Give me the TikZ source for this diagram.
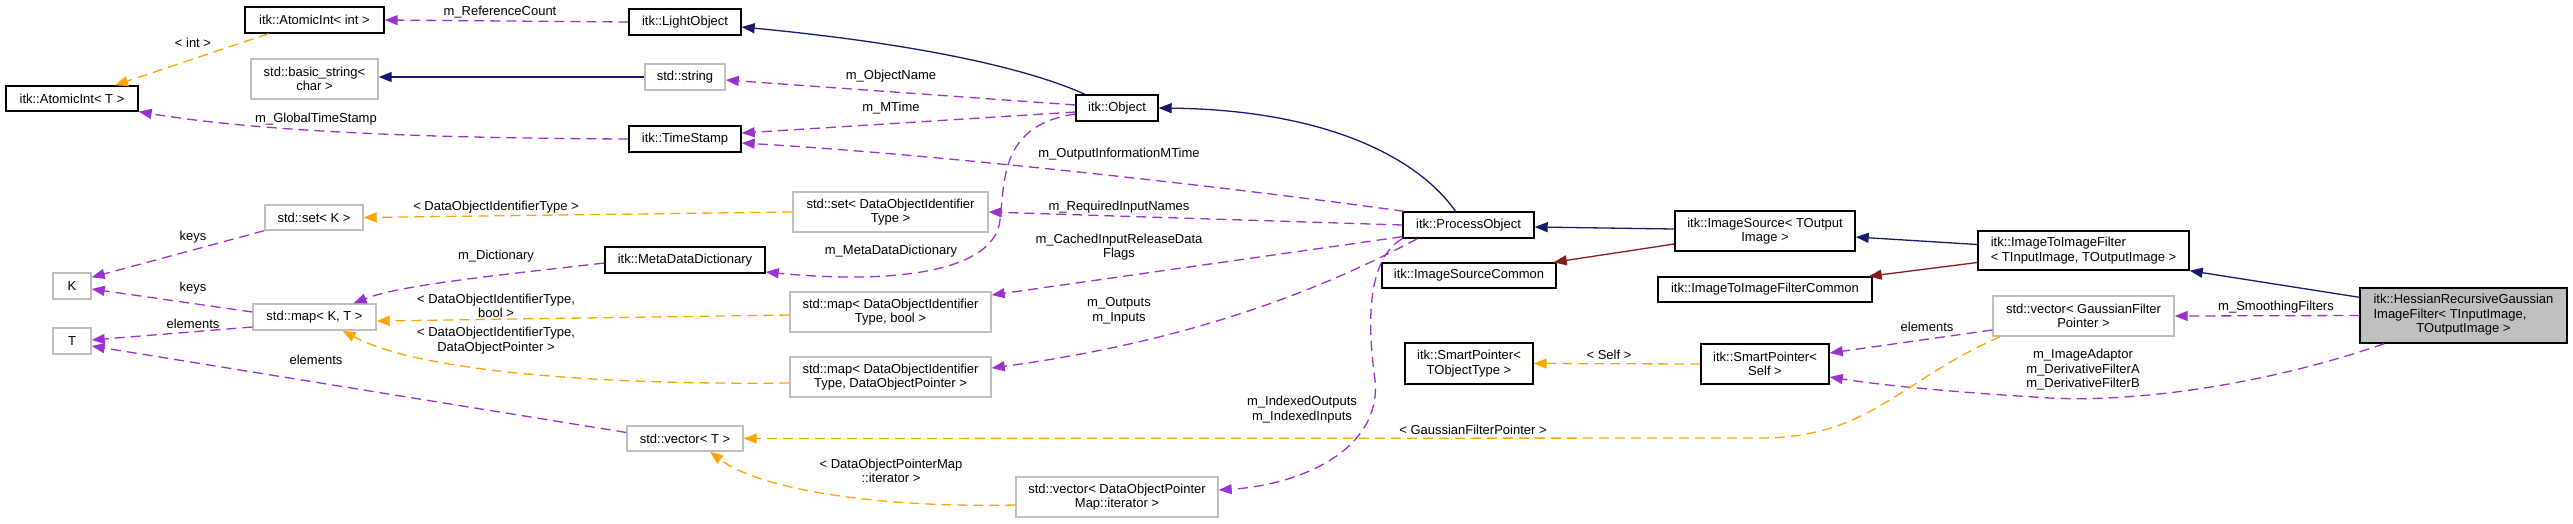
\documentclass[tikz,border=0pt]{standalone}
\usepackage{fontspec}
\setmainfont{Liberation Sans}
\usetikzlibrary{arrows.meta,calc}
\definecolor{navy}{HTML}{191970}
\definecolor{fred}{HTML}{8B1A1A}
\definecolor{purp}{HTML}{9A32CD}
\definecolor{orng}{HTML}{FFA500}
\definecolor{greybox}{HTML}{BFBFBF}
\newcommand\dfnt{\fontsize{13}{14.5}\selectfont}
\begin{document}
\begin{tikzpicture}[x=1pt,y=-1pt,
  box/.style={rectangle,inner sep=0pt,font=\dfnt,align=center,line width=1.4pt},
  cls/.style={box,draw=black},
  ext/.style={box,draw=greybox},
  lbl/.style={inner sep=0pt,font=\dfnt,align=center},
  tipd/.style={-{Triangle[length=13pt,width=10pt]}},
  uses/.style={tipd,draw=purp,line width=1.3pt,dash pattern=on 10pt off 6pt},
  tmpl/.style={tipd,draw=orng,line width=1.3pt,dash pattern=on 10pt off 6pt},
  inh/.style={tipd,draw=navy,line width=1.3pt},
  priv/.style={tipd,draw=fred,line width=1.3pt}
]
\useasboundingbox (0,0) rectangle (2573,523);

% nodes
\node[cls,minimum width=139pt,minimum height=26pt] (aint) at (314.5,20) {itk::AtomicInt< int >};
\node[cls,minimum width=112pt,minimum height=26pt] (light) at (685,22) {itk::LightObject};
\node[ext,minimum width=127pt,minimum height=40pt] (bstr) at (314.5,79) {std::basic\_string<\\char >};
\node[ext,minimum width=80pt,minimum height=26pt] (str) at (685,77) {std::string};
\node[cls,minimum width=132pt,minimum height=25pt] (aintT) at (72,98.5) {itk::AtomicInt< T >};
\node[cls,minimum width=112pt,minimum height=26pt] (ts) at (685,139) {itk::TimeStamp};
\node[ext,minimum width=98pt,minimum height=25pt] (setK) at (314,217.5) {std::set< K >};
\node[cls,minimum width=160pt,minimum height=26pt] (mdd) at (685,260) {itk::MetaDataDictionary};
\node[ext,minimum width=38pt,minimum height=26pt] (K) at (72,286) {K};
\node[ext,minimum width=123pt,minimum height=26pt] (mapKT) at (314.5,317) {std::map< K, T >};
\node[ext,minimum width=38pt,minimum height=26pt] (T) at (72,341) {T};
\node[ext,minimum width=116pt,minimum height=25pt] (vecT) at (685,438.5) {std::vector< T >};
\node[cls,minimum width=82pt,minimum height=26pt] (obj) at (1117,108) {itk::Object};
\node[ext,minimum width=195pt,minimum height=40pt] (setD) at (890.5,212) {std::set< DataObjectIdentifier\\Type >};
\node[ext,minimum width=201pt,minimum height=40pt] (mapB) at (890.5,312) {std::map< DataObjectIdentifier\\Type, bool >};
\node[ext,minimum width=201pt,minimum height=40pt] (mapP) at (890.5,377) {std::map< DataObjectIdentifier\\Type, DataObjectPointer >};
\node[ext,minimum width=202pt,minimum height=40pt] (vecIt) at (1117,497) {std::vector< DataObjectPointer\\Map::iterator >};
\node[cls,minimum width=131pt,minimum height=26pt] (po) at (1468.5,225) {itk::ProcessObject};
\node[cls,minimum width=174pt,minimum height=25pt] (isc) at (1469,275.5) {itk::ImageSourceCommon};
\node[cls,minimum width=128pt,minimum height=41pt] (spT) at (1469,363.5) {itk::SmartPointer<\\TObjectType >};
\node[cls,minimum width=180pt,minimum height=40pt] (is) at (1765,231) {itk::ImageSource< TOutput\\Image >};
\node[cls,minimum width=214pt,minimum height=25pt] (itifc) at (1765,289.5) {itk::ImageToImageFilterCommon};
\node[cls,minimum width=128pt,minimum height=40pt] (spS) at (1765,364) {itk::SmartPointer<\\Self >};
\node[cls,align=left,minimum width=211pt,minimum height=39pt] (itif) at (2083.5,250.5) {itk::ImageToImageFilter\\< TInputImage, TOutputImage >};
\node[ext,minimum width=181pt,minimum height=40pt] (vecG) at (2083.5,316) {std::vector< GaussianFilter\\Pointer >};
\node[cls,fill=greybox,minimum width=207pt,minimum height=55pt] (hess) at (2463.5,315.5)
  {\begin{tabular}{@{}l@{}}itk::HessianRecursiveGaussian\\ImageFilter< TInputImage,\\\multicolumn{1}{@{}c@{}}{TOutputImage >}\end{tabular}};

% edges
\draw[uses] (light.west) -- (aint.east);
\draw[tmpl] ($(aint.south)+(-46,0)$) -- ($(aintT.north)+(43,0)$);
\draw[inh] (str.west) -- (str.west -| bstr.east);
\draw[uses] (ts.west) .. controls (400,138) and (250,130) .. (aintT.south east);
\draw[inh] ($(obj.north)+(-32,0)$) .. controls (1020,65) and (900,42) .. ($(light.east)+(0,5)$);
\draw[uses] ($(obj.west)+(0,-3)$) -- ($(str.east)+(0,3)$);
\draw[uses] ($(obj.west)+(0,4)$) -- ($(ts.east)+(0,-6)$);
\draw[uses] ($(po.north west)+(2,0)$) .. controls (1250,190) and (950,155) .. ($(ts.east)+(0,4)$);
\draw[inh] ($(po.north)+(-13,0)$) .. controls (1420,160) and (1330,110) .. (obj.east);
\draw[uses] (po.west) -- (setD.east);
\draw[tmpl] (setD.west) -- (setK.east);
\draw[uses] (setK.south west) -- ($(K.north east)+(0,5)$);
\draw[uses] ($(obj.west)+(0,6)$) .. controls (1000,125) and (1005,180) .. (1000,220) .. controls (995,270) and (900,285) .. ($(mdd.east)+(0,12)$);
\draw[uses] ($(mdd.west)+(0,3)$) .. controls (500,275) and (400,285) .. ($(mapKT.north)+(39,0)$);
\draw[uses] ($(mapKT.west)+(0,-5)$) -- ($(K.east)+(0,3)$);
\draw[uses] ($(mapKT.west)+(0,10)$) -- ($(T.east)+(0,-1)$);
\draw[uses] ($(vecT.west)+(0,-6)$) -- ($(T.east)+(0,5)$);
\draw[tmpl] ($(mapB.west)+(0,3)$) -- ($(mapKT.east)+(0,4)$);
\draw[tmpl] ($(mapP.west)+(0,6)$) .. controls (600,385) and (420,372) .. ($(mapKT.south)+(28,0)$);
\draw[uses] ($(po.south west)+(0,-2)$) -- ($(mapB.east)+(0,-17)$);
\draw[uses] ($(po.south west)+(15,0)$) .. controls (1330,285) and (1200,340) .. ($(mapP.east)+(0,-9)$);
\draw[uses] (po.south west) .. controls (1365,260) and (1368,330) .. (1375,380) .. controls (1382,450) and (1300,485) .. ($(vecIt.east)+(0,-7)$);
\draw[tmpl] ($(vecIt.west)+(0,8)$) .. controls (880,508) and (760,490) .. ($(vecT.south)+(25,0)$);
\draw[inh] ($(is.west)+(0,-2)$) -- ($(po.east)+(0,2)$);
\draw[priv] ($(is.west)+(0,13)$) -- ($(isc.north east)+(-3,0)$);
\draw[inh] ($(itif.west)+(0,-6)$) -- ($(is.east)+(0,6)$);
\draw[priv] ($(itif.west)+(0,12)$) -- ($(itifc.north east)+(-4,0)$);
\draw[inh] ($(hess.north west)+(0,10)$) -- (itif.south east);
\draw[uses] (hess.west) -- (vecG.east);
\draw[uses] ($(hess.south west)+(25,0)$) .. controls (2250,390) and (2120,402) .. (2050,398) .. controls (1950,392) and (1880,385) .. ($(spS.east)+(0,13)$);
\draw[uses] ($(vecG.west)+(0,14)$) -- ($(spS.east)+(0,-11)$);
\draw[tmpl] ($(vecG.south west)+(8,0)$) .. controls (1900,380) and (1870,438) .. (1760,438) -- (vecT.east);
\draw[tmpl] (spS.west) -- (spT.east);

% labels
\node[lbl] (l1) at (500,12) {m\_ReferenceCount};
\node[lbl] (l2) at (193,43) {< int >};
\node[lbl] (l3) at (316,119) {m\_GlobalTimeStamp};
\node[lbl] (l4) at (891,76) {m\_ObjectName};
\node[lbl] (l5) at (891,108) {m\_MTime};
\node[lbl] (l6) at (1119,154) {m\_OutputInformationMTime};
\node[lbl] (l7) at (1119,207) {m\_RequiredInputNames};
\node[lbl] (l8) at (496,207) {< DataObjectIdentifierType >};
\node[lbl] (l9) at (193,237) {keys};
\node[lbl] (l10) at (891,251) {m\_MetaDataDictionary};
\node[lbl] (l11) at (496,256) {m\_Dictionary};
\node[lbl] (l12) at (193,288) {keys};
\node[lbl] (l13) at (193,324) {elements};
\node[lbl] (l14) at (316,360) {elements};
\node[lbl] (l15) at (496,306) {< DataObjectIdentifierType,\\bool >};
\node[lbl] (l16) at (496,340.5) {< DataObjectIdentifierType,\\DataObjectPointer >};
\node[lbl] (l17) at (1119,247) {m\_CachedInputReleaseData\\Flags};
\node[lbl] (l18) at (1119,311) {m\_Outputs\\m\_Inputs};
\node[lbl] (l19) at (1302,409.5) {m\_IndexedOutputs\\m\_IndexedInputs};
\node[lbl] (l20) at (891,471) {< DataObjectPointerMap\\::iterator >};
\node[lbl] (l21) at (2276,307) {m\_SmoothingFilters};
\node[lbl] (l22) at (2083,370) {m\_ImageAdaptor\\m\_DerivativeFilterA\\m\_DerivativeFilterB};
\node[lbl] (l23) at (1927,327) {elements};
\node[lbl] (l24) at (1473,430) {< GaussianFilterPointer >};
\node[lbl] (l25) at (1609,355) {< Self >};
\end{tikzpicture}
\end{document}
